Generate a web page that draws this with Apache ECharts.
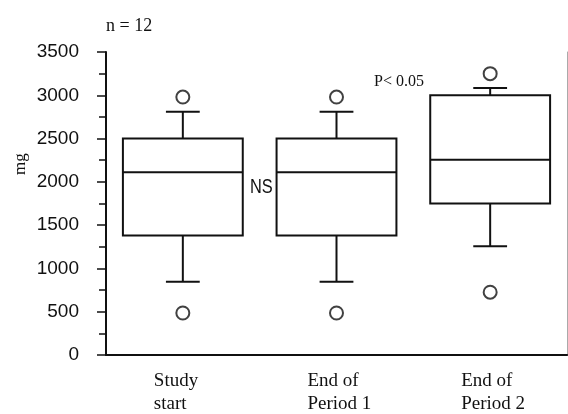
<!DOCTYPE html>
<html>
<head>
<meta charset="utf-8">
<script src="https://cdn.jsdelivr.net/npm/echarts@6/dist/echarts.min.js"></script>
<style>
  html, body { margin: 0; padding: 0; background: #fff; }
  #chart { width: 568px; height: 414px; }
</style>
</head>
<body>
<div id="chart"></div>
<script>
// categories
const categories = ['Study\nstart', 'End of\nPeriod 1', 'End of\nPeriod 2'];

// box statistics per category (mg)
const lowWhisker = [845, 845, 1255];
const q1Values = [1380, 1380, 1750];
const medianValues = [2110, 2110, 2255];
const q3Values = [2500, 2500, 3000];
const highWhisker = [2810, 2810, 3085];

// outliers: [category index, value]
const outliers = [[0, 2980], [0, 485], [1, 2980], [1, 485], [2, 3250], [2, 725]];

// y axis
const yMin = 0;
const yMax = 3500;
const yStep = 500;

const boxData = categories.map((c, i) => [i, lowWhisker[i], q1Values[i], medianValues[i], q3Values[i], highWhisker[i]]);

const ink = '#111';
const serif = '"Liberation Serif", "Times New Roman", serif';
const sans = '"Liberation Sans", Arial, sans-serif';

const chart = echarts.init(document.getElementById('chart'));

chart.setOption({
  animation: false,
  backgroundColor: '#fff',
  grid: { left: 106, right: 1, top: 52, bottom: 55 },
  xAxis: [
    {
      type: 'category',
      data: categories,
      position: 'bottom',
      axisLine: { lineStyle: { color: ink, width: 2 } },
      axisTick: { alignWithLabel: true, length: 5, lineStyle: { color: ink, width: 1.5 } },
      axisLabel: {
        margin: 15,
        formatter: v => v.split('\n').map(s => '{a|' + s + '}').join('\n'),
        rich: {
          a: { width: 58, align: 'left', fontFamily: serif, fontSize: 19, lineHeight: 23, color: ink }
        }
      },
      splitLine: { show: false }
    },
    {
      type: 'category',
      data: categories,
      position: 'top',
      axisLine: { lineStyle: { color: ink, width: 1.5 } },
      axisTick: { alignWithLabel: true, length: 4, lineStyle: { color: ink, width: 1.5 } },
      axisLabel: { show: false },
      splitLine: { show: false }
    }
  ],
  yAxis: [
    {
      type: 'value',
      min: yMin,
      max: yMax,
      interval: yStep,
      position: 'left',
      axisLine: { show: true, lineStyle: { color: ink, width: 2 } },
      axisTick: { show: true, length: 9, lineStyle: { color: ink, width: 1.5 } },
      minorTick: { show: true, splitNumber: 2, length: 7, lineStyle: { color: ink, width: 1.5 } },
      axisLabel: { margin: 27, fontFamily: sans, fontSize: 19, color: ink, formatter: v => String(v) },
      splitLine: { show: false }
    },
    {
      type: 'value',
      min: yMin,
      max: yMax,
      position: 'right',
      axisLine: { show: true, lineStyle: { color: '#aaa', width: 1 } },
      axisTick: { show: false },
      axisLabel: { show: false },
      splitLine: { show: false }
    }
  ],
  series: [
    {
      type: 'custom',
      data: boxData,
      encode: { x: 0, y: [1, 2, 3, 4, 5] },
      renderItem: function (params, api) {
        const i = api.value(0);
        const low = api.coord([i, api.value(1)]);
        const q1 = api.coord([i, api.value(2)]);
        const med = api.coord([i, api.value(3)]);
        const q3 = api.coord([i, api.value(4)]);
        const high = api.coord([i, api.value(5)]);
        const band = api.size([1, 0])[0];
        const bw = band * 0.78 / 2;
        const cw = band * 0.22 / 2;
        const cx = low[0];
        const st = { stroke: ink, lineWidth: 2, fill: null };
        return {
          type: 'group',
          children: [
            { type: 'rect', shape: { x: cx - bw, y: q3[1], width: bw * 2, height: q1[1] - q3[1] }, style: { stroke: ink, lineWidth: 2, fill: '#fff' } },
            { type: 'line', shape: { x1: cx - bw, y1: med[1], x2: cx + bw, y2: med[1] }, style: st },
            { type: 'line', shape: { x1: cx, y1: q3[1], x2: cx, y2: high[1] }, style: st },
            { type: 'line', shape: { x1: cx - cw, y1: high[1], x2: cx + cw, y2: high[1] }, style: st },
            { type: 'line', shape: { x1: cx, y1: q1[1], x2: cx, y2: low[1] }, style: st },
            { type: 'line', shape: { x1: cx - cw, y1: low[1], x2: cx + cw, y2: low[1] }, style: st }
          ]
        };
      }
    },
    {
      type: 'scatter',
      data: outliers,
      symbol: 'circle',
      symbolSize: 13,
      itemStyle: { color: '#fff', borderColor: ink, borderWidth: 2 }
    }
  ],
  graphic: [
    { type: 'text', left: 106, top: 17, style: { text: 'n = 12', font: '18px ' + serif, fill: ink } },
    { type: 'text', x: 12, y: 175, rotation: Math.PI / 2, style: { text: 'mg', font: '17px ' + serif, fill: ink, textVerticalAlign: 'top' } },
    { type: 'text', x: 250, y: 177, scaleX: 0.78, style: { text: 'NS', font: '21px ' + sans, fill: ink } },
    { type: 'text', x: 374, y: 74, style: { text: 'P< 0.05', font: '16px ' + serif, fill: ink } }
  ]
});
</script>
</body>
</html>
